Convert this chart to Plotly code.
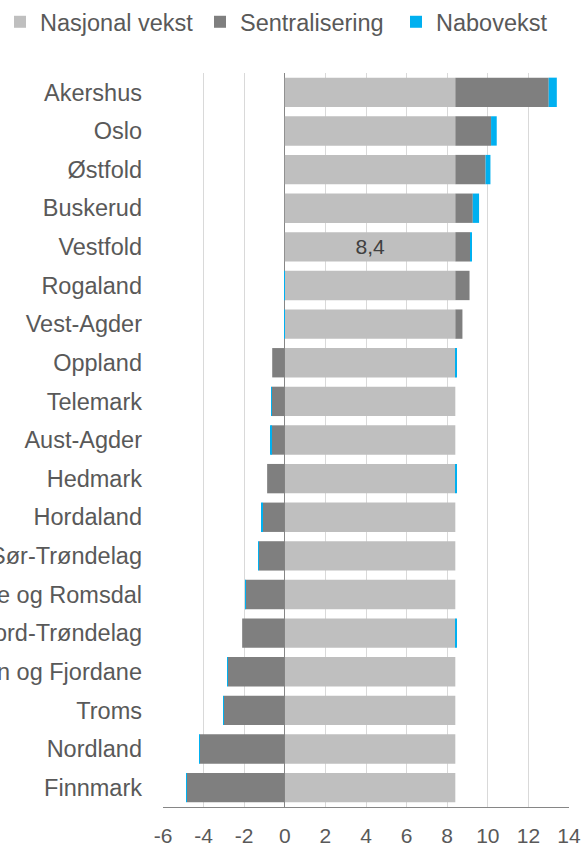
import plotly.graph_objects as go

categories = ["Akershus", "Oslo", "Østfold", "Buskerud", "Vestfold", "Rogaland",
              "Vest-Agder", "Oppland", "Telemark", "Aust-Agder", "Hedmark", "Hordaland",
              "Sør-Trøndelag", "Møre og Romsdal", "Nord-Trøndelag", "Sogn og Fjordane",
              "Troms", "Nordland", "Finnmark"]
nasjonal = [8.4] * 19
sentralisering = [4.6, 1.76, 1.49, 0.86, 0.73, 0.70, 0.35, -0.62, -0.64, -0.66, -0.87,
                  -1.08, -1.28, -1.94, -2.10, -2.80, -3.00, -4.19, -4.82]
nabovekst = [0.40, 0.28, 0.24, 0.31, 0.05, -0.03, -0.02, 0.04, -0.03, -0.06, 0.05,
             -0.05, -0.03, -0.02, 0.04, -0.03, -0.03, -0.02, -0.04]
label_category = "Vestfold"
x_ticks = [-6, -4, -2, 0, 2, 4, 6, 8, 10, 12, 14]

FONT = "Liberation Sans, Arial, sans-serif"
TXT = "#595959"

nas_text = [("%.1f" % v).replace(".", ",") if c == label_category else ""
            for c, v in zip(categories, nasjonal)]

fig = go.Figure()
fig.add_trace(go.Bar(y=categories, x=nasjonal, orientation="h", name="Nasjonal vekst",
                     marker=dict(color="#BFBFBF", line=dict(width=0)),
                     text=nas_text, textposition="inside", insidetextanchor="middle",
                     textfont=dict(family=FONT, size=23.5, color="#404040"),
                     textangle=0, legend="legend"))
fig.add_trace(go.Bar(y=categories, x=sentralisering, orientation="h", name="Sentralisering",
                     marker=dict(color="#7F7F7F", line=dict(width=0)), legend="legend2"))
fig.add_trace(go.Bar(y=categories, x=nabovekst, orientation="h", name="Nabovekst",
                     marker=dict(color="#00B0F0", line=dict(width=0)), legend="legend3"))

W, H = 586, 846
leg_common = dict(orientation="h", xref="container", yref="container",
                  xanchor="left", yanchor="middle", y=1 - 22 / H,
                  font=dict(family=FONT, size=23.5, color=TXT),
                  bgcolor="rgba(0,0,0,0)")
fig.update_layout(
    width=W, height=H,
    barmode="relative", bargap=0.24,
    plot_bgcolor="white", paper_bgcolor="white",
    margin=dict(l=163, r=17, t=73, b=39, autoexpand=False),
    font=dict(family=FONT, size=21, color=TXT),
    showlegend=True,
    legend=dict(x=-6 / W, **leg_common),
    legend2=dict(x=200 / W, **leg_common),
    legend3=dict(x=396 / W, **leg_common),
)
fig.update_xaxes(range=[-6, 14], tickvals=x_ticks, ticktext=[str(t) for t in x_ticks],
                 showgrid=True, gridcolor="#D9D9D9", gridwidth=1,
                 zeroline=True, zerolinecolor="#868686", zerolinewidth=1.3,
                 showline=True, linecolor="#868686", linewidth=1.3,
                 ticks="", automargin=False, ticklabelstandoff=10,
                 tickfont=dict(family=FONT, size=21, color=TXT))
fig.update_yaxes(categoryorder="array", categoryarray=categories, autorange="reversed",
                 showgrid=False, showline=False, ticks="", automargin=False,
                 tickfont=dict(family=FONT, size=23.5, color=TXT), ticklabelstandoff=20)

fig.write_html("out.html", config={"displayModeBar": False},
               post_script="document.body.style.margin='0px';")
